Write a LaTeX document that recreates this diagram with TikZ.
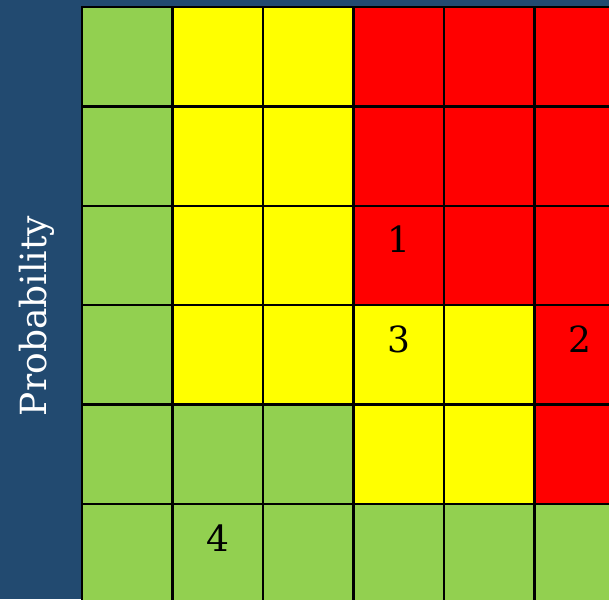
\documentclass[tikz,border=0pt]{standalone}
\usepackage{fontspec}
\setmainfont{DejaVu Serif}
\definecolor{bg}{RGB}{34,74,112}
\definecolor{rg}{RGB}{146,208,80}
\definecolor{ry}{RGB}{255,255,0}
\definecolor{rr}{RGB}{255,0,0}
\begin{document}
\begin{tikzpicture}[x=1pt,y=-1pt,
  cell/.style={draw=black,line width=2.5pt,minimum width=90.5pt,minimum height=99.4pt,inner sep=0pt,outer sep=0pt,anchor=north west},
  num/.style={font=\fontsize{36}{36}\selectfont,text=black,inner sep=0pt,yshift=16pt},
  axislabel/.style={font=\fontsize{36}{36}\selectfont,text=white,rotate=90,inner sep=0pt}]
\useasboundingbox (0,0) rectangle (609,599);
\fill[bg] (0,0) rectangle (609,599);
\clip (0,0) rectangle (609,599);
\foreach \row [count=\r from 0] in {{rg,ry,ry,rr,rr,rr},{rg,ry,ry,rr,rr,rr},{rg,ry,ry,rr,rr,rr},{rg,ry,ry,ry,ry,rr},{rg,rg,rg,ry,ry,rr},{rg,rg,rg,rg,rg,rg}}{
  \foreach \col [count=\c from 0] in \row {
    \node[cell,fill=\col] (c\r\c) at ({82+90.5*\c},{7+99.4*\r}) {};
  }
}
\node[num] (n1) at (c23.center) {1};
\node[num] (n3) at (c33.center) {3};
\node[num] (n2) at (c35.center) {2};
\node[num] (n4) at (c51.center) {4};
\node[axislabel] (prob) at (37,316) {Probability};
\end{tikzpicture}
\end{document}
